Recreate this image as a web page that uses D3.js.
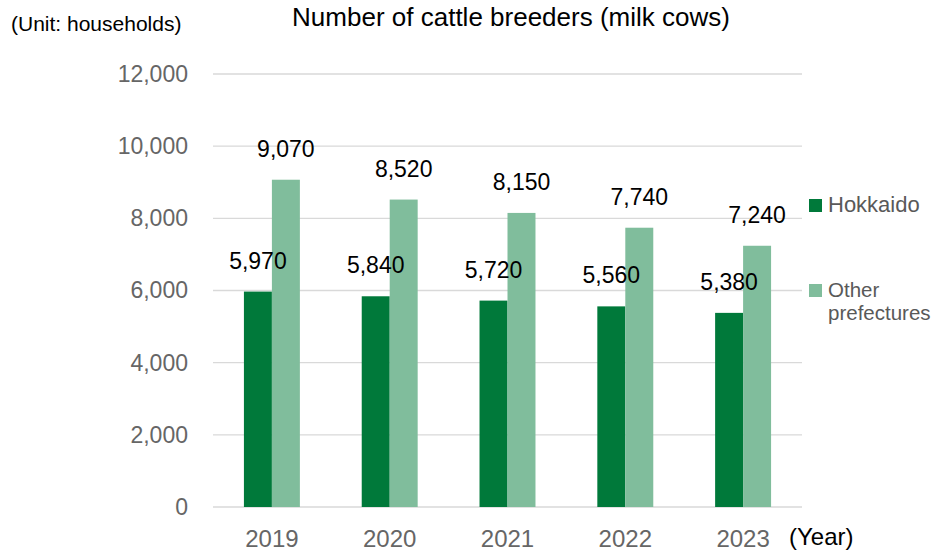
<!DOCTYPE html>
<html>
<head>
<meta charset="utf-8">
<script src="https://cdn.jsdelivr.net/npm/d3@7"></script>
<style>
  body { margin: 0; background: #ffffff; }
  #chart { width: 935px; height: 551px; }
  text { font-family: 'Liberation Sans', Arial, sans-serif; }
</style>
</head>
<body>
<div id="chart"></div>
<script>
// data
const years = ['2019', '2020', '2021', '2022', '2023'];
const seriesNames = ['Hokkaido', 'Other prefectures'];
const hokkaido = [5970, 5840, 5720, 5560, 5380];
const otherPrefs = [9070, 8520, 8150, 7740, 7240];
const yTicks = [0, 2000, 4000, 6000, 8000, 10000, 12000];
const colors = ['#00793a', '#80bd9c'];

const margin = { top: 74, right: 133, bottom: 44, left: 213 };
const width = 935 - margin.left - margin.right;
const height = 551 - margin.top - margin.bottom;

const svgRoot = d3.select('#chart')
  .append('svg')
  .attr('width', 935)
  .attr('height', 551);
const svg = svgRoot.append('g')
  .attr('transform', 'translate(' + margin.left + ',' + margin.top + ')');

const x = d3.scaleBand().domain(years).range([0, width]).paddingInner(0.525).paddingOuter(0.2625);
const xs = d3.scaleBand().domain(seriesNames).range([0, x.bandwidth()]);
const y = d3.scaleLinear().domain([0, 12000]).range([height, 0]);
const fmt = d3.format(',');

// gridlines
svg.selectAll('.grid')
  .data(yTicks)
  .enter()
  .append('line')
  .attr('x1', 0)
  .attr('x2', width)
  .attr('y1', d => y(d))
  .attr('y2', d => y(d))
  .attr('stroke', '#d9d9d9')
  .attr('stroke-width', 1.3);

// y axis labels
const yAxis = svg.append('g')
  .call(d3.axisLeft(y).tickValues(yTicks).tickFormat(fmt).tickSize(0).tickPadding(25));
yAxis.select('.domain').remove();
yAxis.selectAll('text')
  .style('font-size', '23px')
  .style('fill', '#666666')
  .style('font-family', "'Liberation Sans', Arial, sans-serif");

// x axis labels
const xAxis = svg.append('g')
  .attr('transform', 'translate(0,' + height + ')')
  .call(d3.axisBottom(x).tickSize(0).tickPadding(23));
xAxis.select('.domain').remove();
xAxis.selectAll('text')
  .style('font-size', '24px')
  .style('fill', '#666666')
  .style('font-family', "'Liberation Sans', Arial, sans-serif");

const table = years.map((yr, i) => ({
  year: yr,
  values: [
    { key: seriesNames[0], value: hokkaido[i], color: colors[0] },
    { key: seriesNames[1], value: otherPrefs[i], color: colors[1] }
  ]
}));

const groups = svg.selectAll('.group')
  .data(table)
  .enter()
  .append('g')
  .attr('transform', d => 'translate(' + x(d.year) + ',0)');

groups.selectAll('rect')
  .data(d => d.values)
  .enter()
  .append('rect')
  .attr('x', d => xs(d.key))
  .attr('y', d => y(d.value))
  .attr('width', xs.bandwidth())
  .attr('height', d => height - y(d.value))
  .attr('fill', d => d.color);

groups.selectAll('.lbl')
  .data(d => d.values)
  .enter()
  .append('text')
  .attr('x', d => xs(d.key) + xs.bandwidth() / 2)
  .attr('y', d => y(d.value) - 23)
  .attr('text-anchor', 'middle')
  .style('font-size', '23px')
  .style('fill', '#000000')
  .text(d => fmt(d.value));

// title and unit
svgRoot.append('text')
  .attr('x', 511)
  .attr('y', 26)
  .attr('text-anchor', 'middle')
  .style('font-size', '26px')
  .style('fill', '#000000')
  .text('Number of cattle breeders (milk cows)');
svgRoot.append('text')
  .attr('x', 11)
  .attr('y', 31)
  .style('font-size', '21px')
  .style('fill', '#000000')
  .text('(Unit: households)');
svgRoot.append('text')
  .attr('x', 789)
  .attr('y', 545)
  .style('font-size', '24px')
  .style('fill', '#000000')
  .text('(Year)');

// legend
const legend = svgRoot.append('g').attr('transform', 'translate(809,199)');
const legendItems = [
  { lines: ['Hokkaido'], color: colors[0], dy: 0, size: 22 },
  { lines: ['Other', 'prefectures'], color: colors[1], dy: 85, size: 20.5 }
];
for (const item of legendItems) {
  legend.append('rect')
    .attr('x', 0)
    .attr('y', item.dy)
    .attr('width', 13)
    .attr('height', 13)
    .attr('fill', item.color);
  for (const [j, line] of item.lines.entries()) {
    legend.append('text')
      .attr('x', 19)
      .attr('y', item.dy + 13 + j * 23)
      .style('font-size', item.size + 'px')
      .style('fill', '#595959')
      .text(line);
  }
}
</script>
</body>
</html>
